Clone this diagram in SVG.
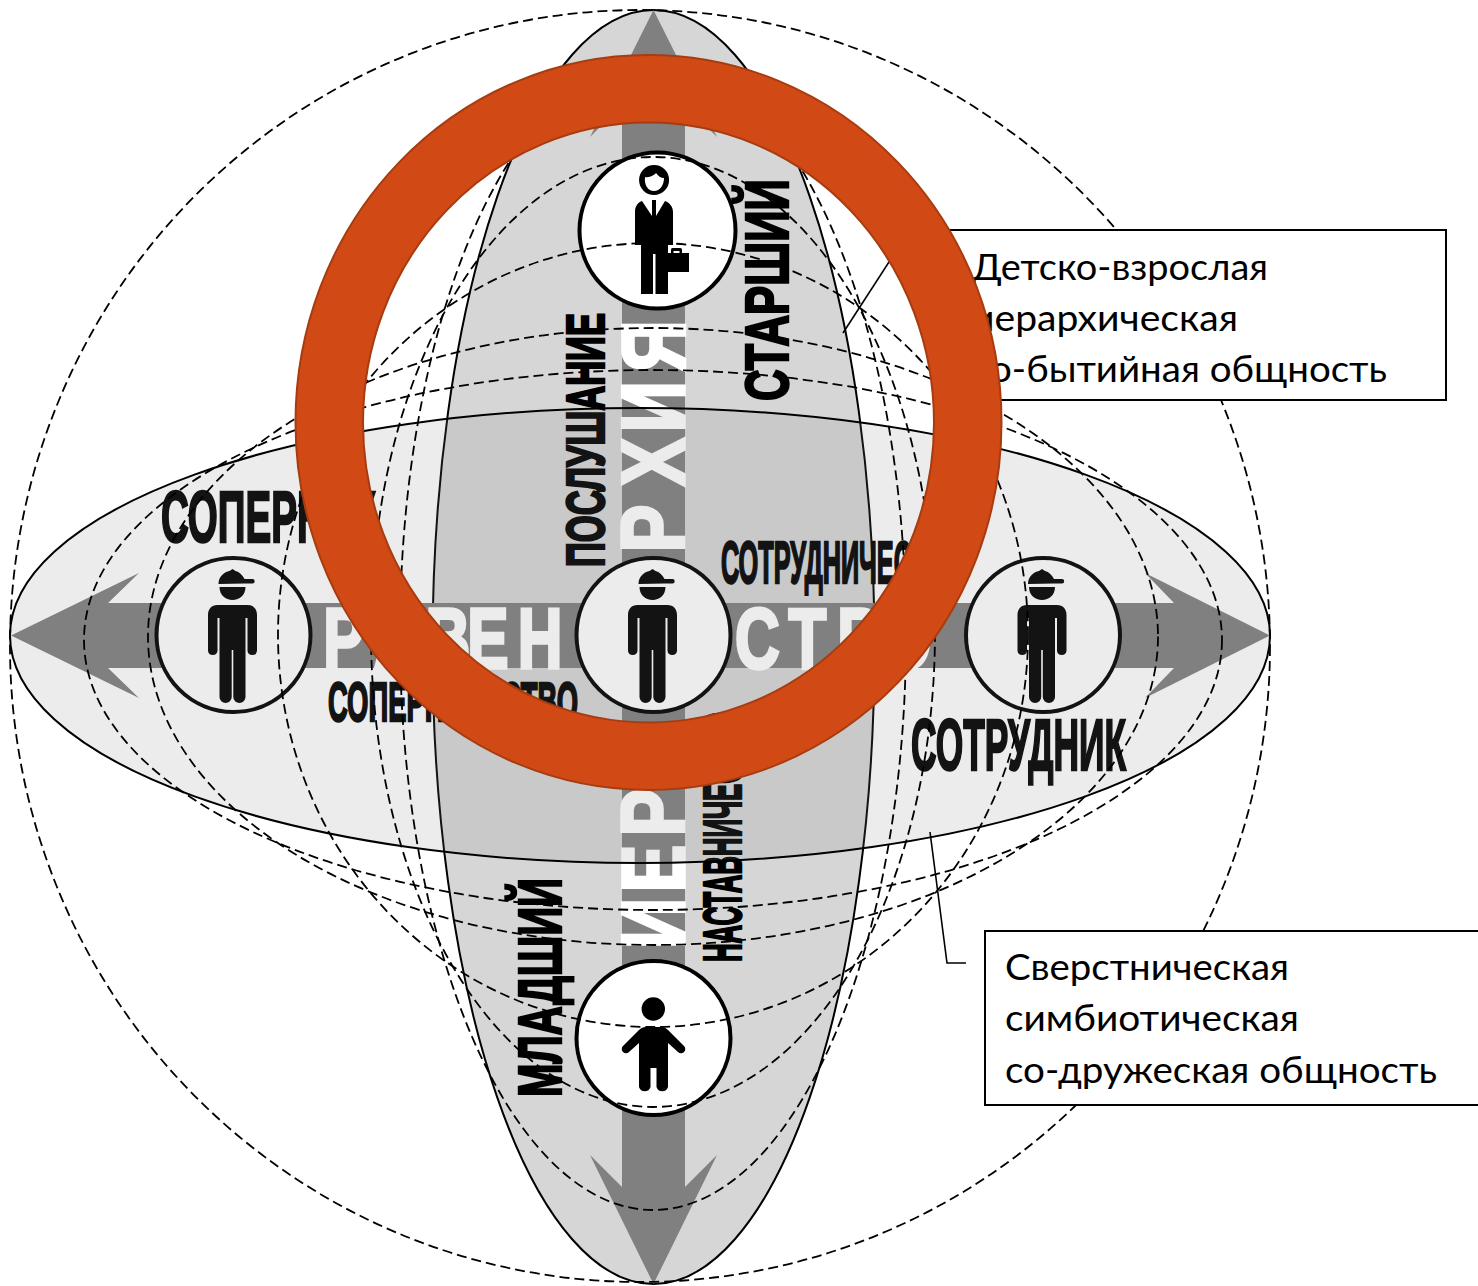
<svg xmlns="http://www.w3.org/2000/svg" xmlns:xlink="http://www.w3.org/1999/xlink" width="1478" height="1286" viewBox="0 0 1478 1286">
<style>
.cap{font-family:"Liberation Sans",Arial,sans-serif;font-weight:700;fill:#000;stroke:#000;stroke-width:2.4}
.big{font-family:"Liberation Sans",Arial,sans-serif;font-weight:700;fill:#fff;stroke:#fff;stroke-width:3.5}
.box{fill:#fff;stroke:#000;stroke-width:2}
.lbl{font-family:Lato,"Open Sans","Noto Sans",sans-serif;font-size:37px;fill:#000}
.dash{fill:none;stroke:#000;stroke-width:1.8;stroke-dasharray:10 5}
.arrow{fill:#808080}
.disc{fill:#fff;stroke:#000;stroke-width:4}
.con{fill:none;stroke:#000;stroke-width:1.6}
</style>
<defs>
<g id="person">
<path d="M-14,-51 C-14,-59 -8,-63 -3,-64 L0,-66 L3,-64 C7,-63 10,-60 12,-56 L20,-56 A2.2,2.2 0 0 1 20,-51.6 L12,-51.6 L-14,-51 Z"/>
<path d="M-13,-48 H13 C13,-40 7,-35 0,-35 C-7,-35 -13,-40 -13,-48 Z"/>
<path d="M-15,-30 H15 C21,-30 24.5,-26 24.5,-20 V16 A4.8,4.8 0 0 1 15,16 V-17 H13 V62 A6.1,6.1 0 0 1 0.8,62 V15 H-0.8 V62 A6.1,6.1 0 0 1 -13,62 V-17 H-15 V16 A4.8,4.8 0 0 1 -24.5,16 V-20 C-24.5,-26 -21,-30 -15,-30 Z"/>
</g>
</defs>
<g id="hierarchy-ellipse"><ellipse cx="653.5" cy="647" rx="221" ry="637" fill="#d6d6d6" stroke="#000" stroke-width="2"/></g>
<g id="hierarchy-arrow"><path class="arrow" d="M653.5,10 L717,137 L685,105 V1187 L717,1155 L653.5,1284 L590,1155 L622,1187 V105 L590,137 Z"/></g>
<g id="equality-arrow"><path class="arrow" d="M11,635.5 L139,573 L108,603 H1174 L1145,573 L1270,635.5 L1145,698 L1174,668 H108 L139,698 Z"/></g>
<g id="big-words">
<text class="big" font-size="89" transform="translate(683.5,949) rotate(-90) scale(.8,1)" x="0 71 141 306 496 579 646 722" y="0">ИЕРАРХИЯ</text>
<text class="big" font-size="86" transform="translate(0,667.5) scale(.72,1)" x="449 519 591 649 719 1021 1095 1163 1227" y="0">РАВЕНСТВО</text>
</g>
<g id="node-elder"><circle class="disc" cx="657.5" cy="230.5" r="78"/>
<path d="M654,165 A15,15 0 1 0 654.1,195 A15,15 0 1 0 654,165 Z M645,177 C650,178 654,175 656,173 C658,176 661,178 664,178 C664,185 660,191 654,191 C648,191 644,185 645,177 Z" fill-rule="evenodd"/>
<path d="M642,201 L652,216 V200 H656 V216 L665,201 C670,203 673,207 673,212 V245 H668 V294 H655.5 V254 H653 V294 H641 V245 H635 V212 C635,207 637,203 642,201 Z"/>
<path d="M668,253 H689 V272 H668 Z M671,253 V250 C671,248 672,248 674,248 H680 C682,248 682,249 682,251 V253 H679.5 V251 H673.5 V253 Z"/>
</g>
<g id="node-junior"><circle class="disc" cx="653.5" cy="1038" r="77"/>
<circle cx="653.3" cy="1009" r="11.7"/>
<path d="M646,1027 H661 C664,1027 666,1028 668,1030 L684,1046 A4,4 0 0 1 678,1052 L668,1043 V1087 A6,6 0 0 1 656.5,1087 V1068 H650.5 V1087 A6,6 0 0 1 639,1087 V1043 L629,1052 A4,4 0 0 1 623,1046 L639,1030 C641,1028 643,1027 646,1027 Z"/>
</g>
<g id="node-rival"><circle class="disc" cx="233.5" cy="635" r="77"/><use xlink:href="#person" href="#person" x="232.5" y="635"/></g>
<g id="node-self"><circle class="disc" cx="653.5" cy="635" r="77"/><use xlink:href="#person" href="#person" x="652.5" y="635"/></g>
<g id="node-colleague"><circle class="disc" cx="1043" cy="635" r="77"/><use xlink:href="#person" href="#person" x="1042" y="635"/></g>
<g id="labels">
<text class="cap" font-size="61" transform="translate(788,401) rotate(-90)" textLength="222" lengthAdjust="spacingAndGlyphs">СТАРШИЙ</text>
<text class="cap" font-size="54" transform="translate(604,567) rotate(-90)" textLength="254" lengthAdjust="spacingAndGlyphs">ПОСЛУШАНИЕ</text>
<text class="cap" font-size="61" transform="translate(561,1097) rotate(-90)" textLength="219" lengthAdjust="spacingAndGlyphs">МЛАДШИЙ</text>
<text class="cap" font-size="54" transform="translate(741,962) rotate(-90)" textLength="250" lengthAdjust="spacingAndGlyphs">НАСТАВНИЧЕСТВО</text>
<text class="cap" font-size="72" x="161" y="542" textLength="215" lengthAdjust="spacingAndGlyphs">СОПЕРНИК</text>
<text class="cap" font-size="72" x="911" y="770" textLength="215" lengthAdjust="spacingAndGlyphs">СОТРУДНИК</text>
<text class="cap" font-size="55" x="328" y="721" textLength="250" lengthAdjust="spacingAndGlyphs">СОПЕРНИЧЕСТВО</text>
<text class="cap" font-size="59" x="721" y="583" textLength="243" lengthAdjust="spacingAndGlyphs">СОТРУДНИЧЕСТВО</text>
</g>
<g id="equality-ellipse"><ellipse cx="640" cy="635.5" rx="630" ry="227.5" fill="#7f7f7f" fill-opacity=".15" stroke="#000" stroke-width="2"/></g>
<g id="sphere-lines">
<ellipse class="dash" cx="640" cy="646" rx="630" ry="636"/>
<ellipse class="dash" cx="653" cy="640" rx="569" ry="270"/>
<ellipse class="dash" cx="653" cy="636.5" rx="505" ry="308.5"/>
<ellipse class="dash" cx="653" cy="635" rx="375" ry="392"/>
<ellipse class="dash" cx="653" cy="632" rx="282" ry="475"/>
<ellipse class="dash" cx="653" cy="635" rx="253" ry="575"/>
</g>
<g id="connectors">
<path class="con" d="M843,333 L900,245"/>
<path class="con" d="M930,832 L947,963 H966"/>
</g>
<g id="box-family"><rect class="box" x="940" y="230" width="506" height="170"/>
<text class="lbl" x="972" y="280" textLength="296" lengthAdjust="spacingAndGlyphs">Детско-взрослая</text>
<text class="lbl" x="972" y="331" textLength="266" lengthAdjust="spacingAndGlyphs">иерархическая</text>
<text class="lbl" x="972" y="382" textLength="415" lengthAdjust="spacingAndGlyphs">со-бытийная общность</text>
</g>
<g id="box-peers"><rect class="box" x="985" y="931" width="500" height="174"/>
<text class="lbl" x="1005" y="980" textLength="284" lengthAdjust="spacingAndGlyphs">Сверстническая</text>
<text class="lbl" x="1005" y="1031" textLength="294" lengthAdjust="spacingAndGlyphs">симбиотическая</text>
<text class="lbl" x="1005" y="1083" textLength="432" lengthAdjust="spacingAndGlyphs">со-дружеская общность</text>
</g>
<g id="ring"><path fill="#d14915" stroke="#a63c10" stroke-width="2" fill-rule="evenodd" d="M295.5,422.5 A353,367.5 0 1 1 1001.5,422.5 A353,367.5 0 1 1 295.5,422.5 Z M363,422.5 A285.5,300 0 1 0 934,422.5 A285.5,300 0 1 0 363,422.5 Z"/></g>
</svg>
